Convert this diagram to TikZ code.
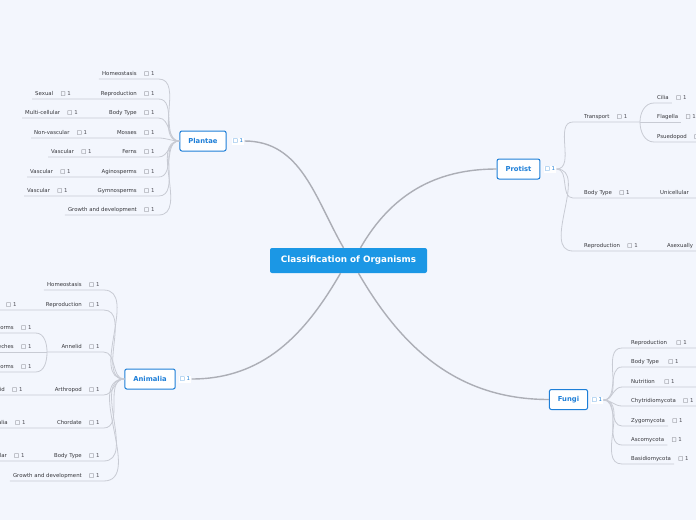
\documentclass[tikz,border=0pt]{standalone}
\usepackage{fontspec}
\setmainfont{DejaVu Sans}
\usetikzlibrary{positioning}

\definecolor{bgblue}{RGB}{243,246,253}
\definecolor{rootblue}{RGB}{27,151,229}
\definecolor{topicblue}{RGB}{30,127,216}
\definecolor{linegrey}{RGB}{200,203,212}
\definecolor{trunkgrey}{RGB}{172,174,182}
\definecolor{leafgrey}{RGB}{55,55,60}
\definecolor{cntgrey}{RGB}{80,80,88}

\tikzset{
  central/.style={fill=rootblue, text=white, rounded corners=2pt, minimum width=157pt, minimum height=25pt, font=\bfseries\fontsize{8.8}{10}\selectfont},
  topic/.style={draw=topicblue, line width=1pt, fill=white, rounded corners=2pt, inner xsep=8.5pt, minimum height=20pt, text=topicblue, font=\bfseries\fontsize{6.8}{8}\selectfont},
  leaf/.style={inner xsep=3pt, inner ysep=2.5pt, text height=4pt, text depth=1.2pt, text=leafgrey, font=\fontsize{5.4}{6}\selectfont},
  cnt/.style={leaf, inner xsep=4pt, text=cntgrey},
  cnttop/.style={fill=white, inner sep=1.2pt, text=topicblue, font=\fontsize{5.4}{6}\selectfont},
  branch/.style={draw=linegrey, line width=0.8pt},
  trunk/.style={draw=trunkgrey, line width=1.4pt},
}

\begin{document}
\begin{tikzpicture}[x=1pt,y=-1pt]
\useasboundingbox (0,0) rectangle (696,520);
\fill[bgblue] (0,0) rectangle (696,520);
\coordinate (edge) at (700,0);

% centre and main topics
\node[central] (root) at (348.5,260.5) {Classification of Organisms};
\node[topic] (pl) at (203,141) {Plantae};
\node[cnttop] (plC) at (238,141) {□ 1};
\node[topic] (pr) at (518.5,169) {Protist};
\node[cnttop] (prC) at (550,169) {□ 1};
\node[topic] (an) at (150,379) {Animalia};
\node[cnttop] (anC) at (185,379) {□ 1};
\node[topic] (fu) at (568.5,399.5) {Fungi};
\node[cnttop] (fuC) at (597,400) {□ 1};

\draw[trunk] ([xshift=-5pt]root.north) to[out=120,in=0] (plC.east);
\draw[trunk] ([xshift=12pt]root.north) to[out=60,in=180] (pr.west);
\draw[trunk] ([xshift=-8pt]root.south) to[out=-120,in=0] (anC.east);
\draw[trunk] ([xshift=10pt]root.south) to[out=-60,in=180] (fu.west);

% Plantae
\node[leaf,anchor=south east] (plHom) at (140,79) {Homeostasis};
\node[cnt,right=0pt of plHom] (plHomC) {□ 1};
\node[leaf,anchor=south east] (plRep) at (140,99) {Reproduction};
\node[cnt,right=0pt of plRep] (plRepC) {□ 1};
\node[leaf,anchor=south west] (plSex) at (32,99) {Sexual};
\node[cnt,right=0pt of plSex] (plSexC) {□ 1};
\node[leaf,anchor=south east] (plBod) at (140,118) {Body Type};
\node[cnt,right=0pt of plBod] (plBodC) {□ 1};
\node[leaf,anchor=south west] (plMul) at (22,118) {Multi-cellular};
\node[cnt,right=0pt of plMul] (plMulC) {□ 1};
\node[leaf,anchor=south east] (plMos) at (140,138) {Mosses};
\node[cnt,right=0pt of plMos] (plMosC) {□ 1};
\node[leaf,anchor=south west] (plNon) at (31,138) {Non-vascular};
\node[cnt,right=0pt of plNon] (plNonC) {□ 1};
\node[leaf,anchor=south east] (plFer) at (140,157) {Ferns};
\node[cnt,right=0pt of plFer] (plFerC) {□ 1};
\node[leaf,anchor=south west] (plVaA) at (48,157) {Vascular};
\node[cnt,right=0pt of plVaA] (plVaAC) {□ 1};
\node[leaf,anchor=south east] (plAgi) at (140,177) {Aginosperms};
\node[cnt,right=0pt of plAgi] (plAgiC) {□ 1};
\node[leaf,anchor=south west] (plVaB) at (27,177) {Vascular};
\node[cnt,right=0pt of plVaB] (plVaBC) {□ 1};
\node[leaf,anchor=south east] (plGym) at (140,196) {Gymnosperms};
\node[cnt,right=0pt of plGym] (plGymC) {□ 1};
\node[leaf,anchor=south west] (plVaC) at (24,196) {Vascular};
\node[cnt,right=0pt of plVaC] (plVaCC) {□ 1};
\node[leaf,anchor=south east] (plGro) at (140,215) {Growth and development};
\node[cnt,right=0pt of plGro] (plGroC) {□ 1};

\draw[branch] (plHom.south west) -- (plHomC.south east) to[out=0,in=180] (pl.west);
\draw[branch] (plSex.south west) -- (plRepC.south east) to[out=0,in=180] (pl.west);
\draw[branch] (plMul.south west) -- (plBodC.south east) to[out=0,in=180] (pl.west);
\draw[branch] (plNon.south west) -- (plMosC.south east) to[out=0,in=180] (pl.west);
\draw[branch] (plVaA.south west) -- (plFerC.south east) to[out=0,in=180] (pl.west);
\draw[branch] (plVaB.south west) -- (plAgiC.south east) to[out=0,in=180] (pl.west);
\draw[branch] (plVaC.south west) -- (plGymC.south east) to[out=0,in=180] (pl.west);
\draw[branch] (plGro.south west) -- (plGroC.south east) to[out=0,in=180] (pl.west);

% Animalia
\node[leaf,anchor=south east] (anHom) at (85,290) {Homeostasis};
\node[cnt,right=0pt of anHom] (anHomC) {□ 1};
\node[leaf,anchor=south east] (anRep) at (85,310) {Reproduction};
\node[cnt,right=0pt of anRep] (anRepC) {□ 1};
\node[leaf,anchor=south east] (anSex) at (2,310) {Sexual};
\node[cnt,right=0pt of anSex] (anSexC) {□ 1};
\node[leaf,anchor=south east] (anAnn) at (85,352) {Annelid};
\node[cnt,right=0pt of anAnn] (anAnnC) {□ 1};
\coordinate (anFork) at (47,352);
\node[leaf,anchor=south east] (anEar) at (17,333) {Earthworms};
\node[cnt,right=0pt of anEar] (anEarC) {□ 1};
\node[leaf,anchor=south east] (anLee) at (17,352) {Leeches};
\node[cnt,right=0pt of anLee] (anLeeC) {□ 1};
\node[leaf,anchor=south east] (anMar) at (17,372) {Marine worms};
\node[cnt,right=0pt of anMar] (anMarC) {□ 1};
\node[leaf,anchor=south east] (anArt) at (85,395) {Arthropod};
\node[cnt,right=0pt of anArt] (anArtC) {□ 1};
\node[leaf,anchor=south east] (anAra) at (8,395) {Arachnid};
\node[cnt,right=0pt of anAra] (anAraC) {□ 1};
\node[leaf,anchor=south east] (anCho) at (85,428) {Chordate};
\node[cnt,right=0pt of anCho] (anChoC) {□ 1};
\node[leaf,anchor=south east] (anMam) at (11,428) {Mammalia};
\node[cnt,right=0pt of anMam] (anMamC) {□ 1};
\node[leaf,anchor=south east] (anBod) at (85,461) {Body Type};
\node[cnt,right=0pt of anBod] (anBodC) {□ 1};
\node[leaf,anchor=south east] (anMul) at (10,461) {Multicellular};
\node[cnt,right=0pt of anMul] (anMulC) {□ 1};
\node[leaf,anchor=south east] (anGro) at (85,481) {Growth and development};
\node[cnt,right=0pt of anGro] (anGroC) {□ 1};

\draw[branch] (anHom.south west) -- (anHomC.south east) to[out=0,in=180] (an.west);
\draw[branch] (anSex.south west) -- (anRepC.south east) to[out=0,in=180] (an.west);
\draw[branch] (anFork) -- (anAnnC.south east) to[out=0,in=180] (an.west);
\draw[branch] (anEar.south west) -- (anEarC.south east) to[out=0,in=90] (anFork);
\draw[branch] (anLee.south west) -- (anFork);
\draw[branch] (anMar.south west) -- (anMarC.south east) to[out=0,in=-90] (anFork);
\draw[branch] (anAra.south west) -- (anArtC.south east) to[out=0,in=180] (an.west);
\draw[branch] (anMam.south west) -- (anChoC.south east) to[out=0,in=180] (an.west);
\draw[branch] (anMul.south west) -- (anBodC.south east) to[out=0,in=180] (an.west);
\draw[branch] (anGro.south west) -- (anGroC.south east) to[out=0,in=180] (an.west);

% Protist
\node[leaf,anchor=south west] (prTra) at (581,122) {Transport};
\node[cnt,right=0pt of prTra] (prTraC) {□ 1};
\coordinate (prFork) at (640,122);
\node[leaf,anchor=south west] (prCil) at (654,103) {Cilia};
\node[cnt,right=0pt of prCil] (prCilC) {□ 1};
\node[leaf,anchor=south west] (prFla) at (654,122) {Flagella};
\node[cnt,right=0pt of prFla] (prFlaC) {□ 1};
\node[leaf,anchor=south west] (prPsu) at (654,142) {Psuedopod};
\node[cnt,right=0pt of prPsu] (prPsuC) {□ 1};
\node[leaf,anchor=south west] (prBod) at (581,198) {Body Type};
\node[cnt,right=0pt of prBod] (prBodC) {□ 1};
\node[leaf,anchor=south west] (prUni) at (657,198) {Unicellular};
\node[leaf,anchor=south west] (prRep) at (581,251) {Reproduction};
\node[cnt,right=0pt of prRep] (prRepC) {□ 1};
\node[leaf,anchor=south west] (prAse) at (664,251) {Asexually};

\draw[branch] (prC.east) to[out=0,in=180] ([xshift=-8pt]prTra.south west) -- (prFork);
\draw[branch] (prFork) to[out=90,in=180] (prCil.south west) -- (prCil.south east);
\draw[branch] (prFork) -- (prFla.south east);
\draw[branch] (prFork) to[out=-90,in=180] (prPsu.south west) -- (prPsu.south -| edge);
\draw[branch] (prC.east) to[out=0,in=180] ([xshift=-8pt]prBod.south west) -- (prUni.south -| edge);
\draw[branch] (prC.east) to[out=0,in=180] ([xshift=-8pt]prRep.south west) -- (prAse.south -| edge);

% Fungi
\node[leaf,anchor=south west] (fuRep) at (628,348) {Reproduction};
\node[cnt,right=2pt of fuRep] (fuRepC) {□ 1};
\node[leaf,anchor=south west] (fuBod) at (628,367) {Body Type};
\node[cnt,right=2pt of fuBod] (fuBodC) {□ 1};
\node[leaf,anchor=south west] (fuNut) at (628,387) {Nutrition};
\node[cnt,right=2pt of fuNut] (fuNutC) {□ 1};
\node[leaf,anchor=south west] (fuChy) at (628,406) {Chytridiomycota};
\node[cnt,right=0pt of fuChy] (fuChyC) {□ 1};
\node[leaf,anchor=south west] (fuZyg) at (628,426) {Zygomycota};
\node[cnt,right=0pt of fuZyg] (fuZygC) {□ 1};
\node[leaf,anchor=south west] (fuAsc) at (628,445) {Ascomycota};
\node[cnt,right=0pt of fuAsc] (fuAscC) {□ 1};
\node[leaf,anchor=south west] (fuBas) at (628,464) {Basidiomycota};
\node[cnt,right=0pt of fuBas] (fuBasC) {□ 1};

\draw[branch] (fuC.east) to[out=0,in=180] ([xshift=-6pt]fuRep.south west) -- (fuRep.south -| edge);
\draw[branch] (fuC.east) to[out=0,in=180] ([xshift=-6pt]fuBod.south west) -- (fuBod.south -| edge);
\draw[branch] (fuC.east) to[out=0,in=180] ([xshift=-6pt]fuNut.south west) -- (fuNut.south -| edge);
\draw[branch] (fuC.east) to[out=0,in=180] ([xshift=-6pt]fuChy.south west) -- (fuChy.south -| edge);
\draw[branch] (fuC.east) to[out=0,in=180] ([xshift=-6pt]fuZyg.south west) -- (fuZyg.south east);
\draw[branch] (fuC.east) to[out=0,in=180] ([xshift=-6pt]fuAsc.south west) -- (fuAsc.south east);
\draw[branch] (fuC.east) to[out=0,in=180] ([xshift=-6pt]fuBas.south west) -- (fuBas.south east);
\end{tikzpicture}
\end{document}
